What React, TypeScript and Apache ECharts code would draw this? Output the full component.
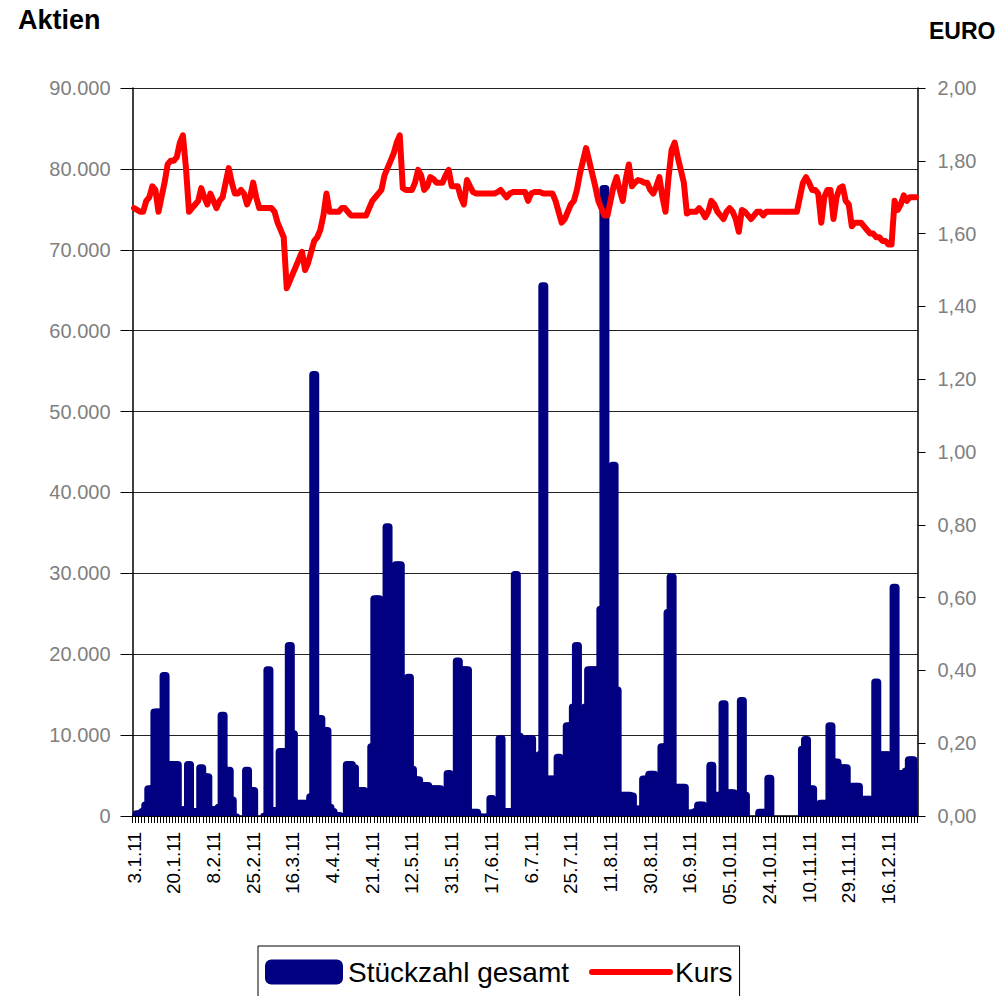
import React, { useEffect, useRef } from "react";
import * as echarts from "echarts";

// Trading days 2011 (Xetra): weekdays minus these holidays
const HOLIDAYS = ["2011-04-22", "2011-04-25", "2011-12-26"];

// Displayed tick labels (every 13th trading day)
const TICK_LABELS = [
  "3.1.11", "20.1.11", "8.2.11", "25.2.11", "16.3.11", "4.4.11", "21.4.11",
  "12.5.11", "31.5.11", "17.6.11", "6.7.11", "25.7.11", "11.8.11", "30.8.11",
  "16.9.11", "05.10.11", "24.10.11", "10.11.11", "29.11.11", "16.12.11",
];

// Stückzahl gesamt (daily volume)
const VOLUME = [
  300, 700, 700, 1000, 1800, 3800, 3800, 13300, 13300, 13300,
  17800, 6800, 6800, 6800, 6800, 1200, 1200, 1200, 6800, 1000,
  1000, 1000, 6400, 5300, 5300, 1200, 1200, 1200, 1500, 12900,
  6100, 6100, 2400, 300, 0, 0, 0, 6100, 3600, 3600,
  0, 0, 0, 400, 18500, 1100, 1100, 1100, 8400, 8400,
  8000, 21500, 10600, 2000, 2000, 2000, 2000, 2000, 2800, 55000,
  12500, 12500, 11000, 11000, 1500, 1000, 500, 500, 0, 0,
  6800, 6800, 6400, 3600, 3600, 3600, 3400, 3000, 9000, 27300,
  27300, 9000, 9000, 36200, 15000, 20000, 31500, 31500, 8000, 8000,
  17600, 6200, 4900, 4900, 4200, 4200, 4200, 3800, 3800, 3800,
  3800, 3500, 3500, 5700, 4000, 4000, 19600, 18500, 18500, 18500,
  900, 900, 900, 300, 300, 0, 300, 2600, 1000, 1000,
  10000, 1000, 1000, 1000, 1000, 30300, 10300, 4400, 4400, 10000,
  10000, 5000, 5000, 8000, 66000, 5000, 5000, 5000, 5000, 7700,
  5000, 5000, 11600, 11600, 13900, 21500, 12500, 12500, 13900, 18500,
  18500, 18500, 18500, 26000, 78000, 20000, 43000, 43800, 16000, 3000,
  3000, 3000, 3000, 2900, 1300, 1300, 1300, 5000, 5000, 5600,
  5600, 5000, 5000, 9000, 9000, 25600, 30000, 4000, 4000, 4000,
  4000, 800, 800, 800, 1000, 1800, 1800, 1500, 1500, 6700,
  3000, 3000, 3000, 14300, 3300, 3300, 3300, 3000, 3000, 14700,
  3000, 0, 0, 0, 0, 900, 900, 900, 5100, 0,
  0, 0, 0, 0, 0, 0, 0, 0, 0, 8700,
  9900, 3800, 3800, 1800, 1800, 2000, 2000, 2000, 11600, 7100,
  7100, 6400, 6400, 6400, 2800, 4100, 4100, 4100, 2500, 2500,
  2500, 2500, 2500, 17000, 8000, 8000, 8000, 8000, 7000, 28700,
  5700, 5700, 5700, 6000, 7400, 7400, 6000,
];

// Kurs (EUR)
const PRICE = [
  1.67, 1.665, 1.66, 1.66, 1.69, 1.70, 1.73, 1.72, 1.66, 1.70,
  1.74, 1.79, 1.80, 1.80, 1.81, 1.85, 1.87, 1.78, 1.66, 1.67,
  1.68, 1.69, 1.725, 1.70, 1.68, 1.71, 1.69, 1.67, 1.69, 1.70,
  1.74, 1.78, 1.74, 1.71, 1.71, 1.72, 1.71, 1.68, 1.70, 1.74,
  1.70, 1.67, 1.67, 1.67, 1.67, 1.67, 1.66, 1.63, 1.61, 1.59,
  1.45, 1.47, 1.49, 1.51, 1.53, 1.55, 1.50, 1.52, 1.55, 1.58,
  1.59, 1.61, 1.65, 1.71, 1.66, 1.66, 1.66, 1.66, 1.67, 1.67,
  1.66, 1.65, 1.65, 1.65, 1.65, 1.65, 1.65, 1.67, 1.69, 1.70,
  1.71, 1.72, 1.76, 1.78, 1.80, 1.82, 1.85, 1.87, 1.725, 1.72,
  1.72, 1.72, 1.74, 1.775, 1.76, 1.72, 1.73, 1.755, 1.75, 1.74,
  1.74, 1.74, 1.76, 1.775, 1.73, 1.73, 1.73, 1.70, 1.68, 1.747,
  1.73, 1.714, 1.71, 1.71, 1.71, 1.71, 1.71, 1.71, 1.71, 1.714,
  1.72, 1.71, 1.70, 1.71, 1.714, 1.714, 1.714, 1.714, 1.714, 1.69,
  1.71, 1.714, 1.714, 1.714, 1.71, 1.71, 1.71, 1.71, 1.69, 1.66,
  1.63, 1.64, 1.66, 1.68, 1.69, 1.72, 1.765, 1.80, 1.835, 1.80,
  1.765, 1.73, 1.69, 1.67, 1.65, 1.65, 1.69, 1.73, 1.755, 1.72,
  1.69, 1.75, 1.79, 1.73, 1.74, 1.747, 1.745, 1.74, 1.74, 1.72,
  1.71, 1.73, 1.755, 1.70, 1.66, 1.755, 1.83, 1.85, 1.81, 1.775,
  1.74, 1.655, 1.66, 1.66, 1.66, 1.67, 1.66, 1.645, 1.66, 1.69,
  1.68, 1.66, 1.65, 1.64, 1.66, 1.67, 1.66, 1.64, 1.605, 1.665,
  1.66, 1.65, 1.64, 1.65, 1.66, 1.66, 1.65, 1.66, 1.66, 1.66,
  1.66, 1.66, 1.66, 1.66, 1.66, 1.66, 1.66, 1.66, 1.70, 1.74,
  1.755, 1.74, 1.72, 1.72, 1.71, 1.63, 1.70, 1.72, 1.72, 1.64,
  1.70, 1.725, 1.73, 1.69, 1.68, 1.62, 1.63, 1.63, 1.63, 1.62,
  1.61, 1.60, 1.60, 1.59, 1.59, 1.58, 1.58, 1.57, 1.57, 1.69,
  1.665, 1.68, 1.705, 1.69, 1.70, 1.70, 1.70,
];

function tradingDays(): string[] {
  const out: string[] = [];
  const start = Date.UTC(2011, 0, 3);
  const end = Date.UTC(2011, 11, 30);
  for (let t = start; t <= end; t += 86400000) {
    const d = new Date(t);
    const wd = d.getUTCDay();
    if (wd === 0 || wd === 6) continue;
    const iso = d.toISOString().slice(0, 10);
    if (HOLIDAYS.includes(iso)) continue;
    out.push(`${d.getUTCDate()}.${d.getUTCMonth() + 1}.11`);
  }
  return out;
}

const FONT = "'Liberation Sans', Arial, sans-serif";
const NAVY = "#000080";
const RED = "#ff0000";

export default function App() {
  const ref = useRef<HTMLDivElement>(null);

  useEffect(() => {
    if (!ref.current) return;
    const chart = echarts.init(ref.current, undefined, { renderer: "svg" });
    const cats = tradingDays();
    const thousands = (v: number) =>
      String(v).replace(/\B(?=(\d{3})+(?!\d))/g, ".");

    chart.setOption({
      animation: false,
      backgroundColor: "#ffffff",
      textStyle: { fontFamily: FONT },
      graphic: [
        {
          type: "text",
          left: 18,
          top: 6,
          style: { text: "Aktien", font: `bold 27px ${FONT}`, fill: "#000" },
        },
        {
          type: "text",
          left: 929,
          top: 19,
          style: { text: "EURO", font: `bold 23px ${FONT}`, fill: "#000" },
        },
      ],
      legend: {
        left: 258,
        top: 946,
        padding: [12, 7, 30, 7],
        borderColor: "#000",
        borderWidth: 1,
        itemWidth: 78,
        itemHeight: 25,
        itemGap: 20,
        textStyle: { fontSize: 28, color: "#000", fontFamily: FONT },
        data: [
          {
            name: "Stückzahl gesamt",
            icon: "roundRect",
            itemStyle: { borderWidth: 0, color: NAVY },
          },
          {
            name: "Kurs",
            itemStyle: { color: "rgba(0,0,0,0)", borderWidth: 0, opacity: 0 },
            lineStyle: { width: 6, color: RED, cap: "round" },
          },
        ],
      },
      grid: { left: 132.5, right: 86.5, top: 88, bottom: 180, containLabel: false },
      xAxis: {
        type: "category",
        data: cats,
        boundaryGap: true,
        axisLine: { lineStyle: { color: "#000", width: 1.5 } },
        axisTick: { show: true, interval: 0, length: 7, lineStyle: { color: "#000" } },
        axisLabel: {
          interval: 12,
          rotate: 90,
          margin: 16,
          fontSize: 19,
          color: "#000",
          fontFamily: FONT,
          formatter: (v: string, i: number) =>
            i % 13 === 0 && TICK_LABELS[i / 13] ? TICK_LABELS[i / 13] : v,
        },
        splitLine: { show: false },
      },
      yAxis: [
        {
          type: "value",
          min: 0,
          max: 90000,
          interval: 10000,
          axisLine: { show: true, lineStyle: { color: "#000", width: 1.5 } },
          axisTick: { show: true, length: 12, lineStyle: { color: "#000" } },
          axisLabel: {
            margin: 22,
            fontSize: 20,
            color: "#808080",
            fontFamily: FONT,
            formatter: (v: number) => thousands(v),
          },
          splitLine: { show: true, lineStyle: { color: "#222", width: 1 } },
        },
        {
          type: "value",
          min: 0,
          max: 2,
          interval: 0.2,
          position: "right",
          axisLine: { show: true, lineStyle: { color: "#000", width: 1.5 } },
          axisTick: { show: true, length: 8, lineStyle: { color: "#000" } },
          axisLabel: {
            margin: 20,
            fontSize: 20,
            color: "#808080",
            fontFamily: FONT,
            formatter: (v: number) => v.toFixed(2).replace(".", ","),
          },
          splitLine: { show: false },
        },
      ],
      series: [
        {
          name: "Stückzahl gesamt",
          type: "bar",
          yAxisIndex: 0,
          barWidth: 10,
          data: VOLUME.map((v) => (v > 0 ? v : null)),
          itemStyle: {
            color: NAVY,
            borderWidth: 0,
            borderRadius: [4, 4, 0, 0],
          },
          emphasis: { disabled: true },
          z: 2,
        },
        {
          name: "Kurs",
          type: "line",
          yAxisIndex: 1,
          data: PRICE,
          symbol: "none",
          showSymbol: false,
          lineStyle: { color: RED, width: 6, join: "round", cap: "round" },
          itemStyle: { color: RED },
          emphasis: { disabled: true },
          z: 3,
        },
      ],
    });

    return () => chart.dispose();
  }, []);

  return (
    <div
      ref={ref}
      style={{ position: "absolute", left: 0, top: 0, width: 1004, height: 996, background: "#fff" }}
    />
  );
}
